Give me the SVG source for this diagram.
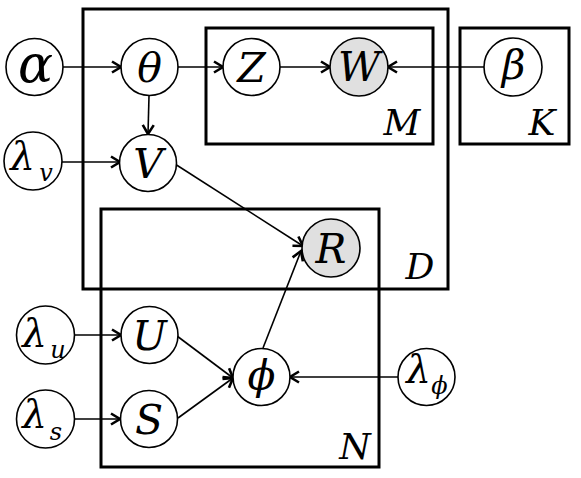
<svg xmlns="http://www.w3.org/2000/svg" width="581" height="478" viewBox="0 0 581 478">
<style>
.plate{fill:none;stroke:#000;stroke-width:3}
.node{fill:#fff;stroke:#000;stroke-width:1.6}
.obs{fill:#e0e0e0;stroke:#000;stroke-width:1.6}
.t{fill:#000;text-anchor:middle}
.big{font-size:41px}
.lam{font-size:39px}
.sub{font-size:24px}
.pl{font-size:36px}
.edge{stroke:#000;stroke-width:1.6;fill:none;marker-end:url(#arr)}
</style>
<defs>
<marker id="arr" markerWidth="14" markerHeight="14" refX="11" refY="7" orient="auto" markerUnits="userSpaceOnUse">
<path d="M2,1.5 L11,7 L2,12.5" fill="none" stroke="#000" stroke-width="2.6"/>
</marker>
</defs>
<rect fill="#fff" x="0" y="0" width="581" height="478"/>
<g id="plates">
<rect class="plate" x="83" y="9" width="365" height="280"/>
<rect class="plate" x="206" y="28" width="227" height="116"/>
<rect class="plate" x="460" y="28" width="109" height="116"/>
<rect class="plate" x="101" y="209" width="278" height="258"/>
<text class="t pl" font-family="DejaVu Serif" font-style="italic" x="402" y="135">M</text>
<text class="t pl" font-family="DejaVu Serif" font-style="italic" x="542" y="135">K</text>
<text class="t pl" font-family="DejaVu Serif" font-style="italic" x="420" y="279">D</text>
<text class="t pl" font-family="DejaVu Serif" font-style="italic" x="355" y="459">N</text>
</g>
<g id="connectors">
<line class="edge" x1="63" y1="67" x2="121" y2="67"/>
<line class="edge" x1="178" y1="67" x2="223" y2="67"/>
<line class="edge" x1="280" y1="67" x2="330" y2="67"/>
<line class="edge" x1="484" y1="67" x2="388" y2="67"/>
<line class="edge" x1="149" y1="96" x2="148" y2="134"/>
<line class="edge" x1="62" y1="162" x2="120" y2="162"/>
<line class="edge" x1="175" y1="164" x2="303" y2="246"/>
<line class="edge" x1="75" y1="335" x2="121" y2="335"/>
<line class="edge" x1="75" y1="419" x2="120" y2="419"/>
<line class="edge" x1="177" y1="336" x2="233" y2="378"/>
<line class="edge" x1="178" y1="418" x2="233" y2="378"/>
<line class="edge" x1="263" y1="348" x2="301" y2="251"/>
<line class="edge" x1="398" y1="377" x2="290" y2="377"/>
</g>
<g id="alpha"><circle class="node" cx="34.5" cy="67" r="28.5"/><text class="t" font-family="DejaVu Serif" font-style="italic" font-size="52" x="35.5" y="82">α</text></g>
<g id="theta"><circle class="node" cx="149.5" cy="67" r="28.5"/><text class="t big" font-family="DejaVu Serif" font-style="italic" x="149.5" y="82">θ</text></g>
<g id="Z"><circle class="node" cx="251.5" cy="67" r="28.5"/><text class="t big" font-family="DejaVu Serif" font-style="italic" x="251.5" y="82">Z</text></g>
<g id="W"><circle class="obs" cx="359" cy="67" r="29"/><text class="t big" font-family="DejaVu Serif" font-style="italic" font-size="37" x="359" y="81">W</text></g>
<g id="beta"><circle class="node" cx="513" cy="67" r="29"/><text class="t big" font-family="DejaVu Serif" font-style="italic" x="513.5" y="79">β</text></g>
<g id="lambda_v"><circle class="node" cx="33" cy="161" r="29"/><text class="t lam" font-family="DejaVu Serif" font-style="italic" x="22.5" y="170">λ</text><text class="t sub" font-family="DejaVu Serif" font-style="italic" x="46" y="181">v</text></g>
<g id="V"><circle class="node" cx="148" cy="163" r="28.5"/><text class="t big" font-family="DejaVu Serif" font-style="italic" x="148" y="178">V</text></g>
<g id="R"><circle class="obs" cx="331" cy="248" r="29"/><text class="t big" font-family="DejaVu Serif" font-style="italic" x="331" y="263">R</text></g>
<g id="lambda_u"><circle class="node" cx="45.5" cy="335" r="29"/><text class="t lam" font-family="DejaVu Serif" font-style="italic" x="34.5" y="347">λ</text><text class="t sub" font-family="DejaVu Serif" font-style="italic" x="58" y="358">u</text></g>
<g id="U"><circle class="node" cx="149.5" cy="335" r="28.5"/><text class="t big" font-family="DejaVu Serif" font-style="italic" x="149.5" y="350">U</text></g>
<g id="lambda_s"><circle class="node" cx="45.5" cy="419" r="29"/><text class="t lam" font-family="DejaVu Serif" font-style="italic" x="34.5" y="428">λ</text><text class="t sub" font-family="DejaVu Serif" font-style="italic" x="56" y="440">s</text></g>
<g id="S"><circle class="node" cx="149" cy="419" r="28.5"/><text class="t big" font-family="DejaVu Serif" font-style="italic" x="149" y="434">S</text></g>
<g id="phi"><circle class="node" cx="261.5" cy="377" r="28.5"/><text class="t big" font-family="DejaVu Serif" font-style="italic" x="261.5" y="389">ϕ</text></g>
<g id="lambda_phi"><circle class="node" cx="426.5" cy="377" r="28.5"/><text class="t lam" font-family="DejaVu Serif" font-style="italic" x="418.5" y="383">λ</text><text class="t sub" font-family="DejaVu Serif" font-style="italic" x="439.5" y="394">ϕ</text></g>
</svg>
